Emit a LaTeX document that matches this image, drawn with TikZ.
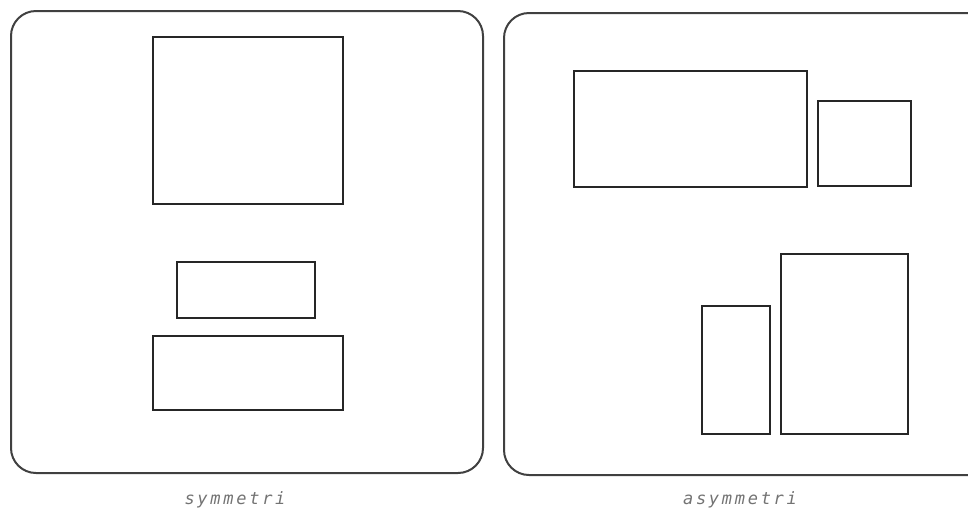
\documentclass[tikz,border=0pt]{standalone}
\usepackage{fontspec}
\newfontfamily\lblfont[LetterSpace=16]{DejaVu Sans Mono}
\begin{document}
\begin{tikzpicture}[x=1pt,y=-1pt,
  frame/.style={draw=black!75,line width=2pt,rounded corners=25pt},
  box/.style={draw=black!85,line width=1.8pt,anchor=north west,inner sep=0pt},
  lbl/.style={text=black!55,font=\lblfont\itshape\fontsize{17}{19}\selectfont,inner sep=0pt}]
\useasboundingbox (0,0) rectangle (968,515);
\clip (0,0) rectangle (968,515);
% frames
\draw[frame] (11,11) rectangle (483,473);
\draw[frame] (504,13) rectangle (995,475);
% left panel
\node[box,minimum width=190pt,minimum height=167pt] (ls1) at (152,36) {};
\node[box,minimum width=138pt,minimum height=56pt] (ls2) at (176,261) {};
\node[box,minimum width=190pt,minimum height=74pt] (ls3) at (152,335) {};
% right panel
\node[box,minimum width=233pt,minimum height=116pt] (ra1) at (573,70) {};
\node[box,minimum width=93pt,minimum height=85pt] (ra2) at (817,100) {};
\node[box,minimum width=68pt,minimum height=128pt] (ra3) at (701,305) {};
\node[box,minimum width=127pt,minimum height=180pt] (ra4) at (780,253) {};
% labels
\node[lbl] (lsym) at (235,500) {symmetri};
\node[lbl] (lasym) at (740,500) {asymmetri};
\end{tikzpicture}
\end{document}
